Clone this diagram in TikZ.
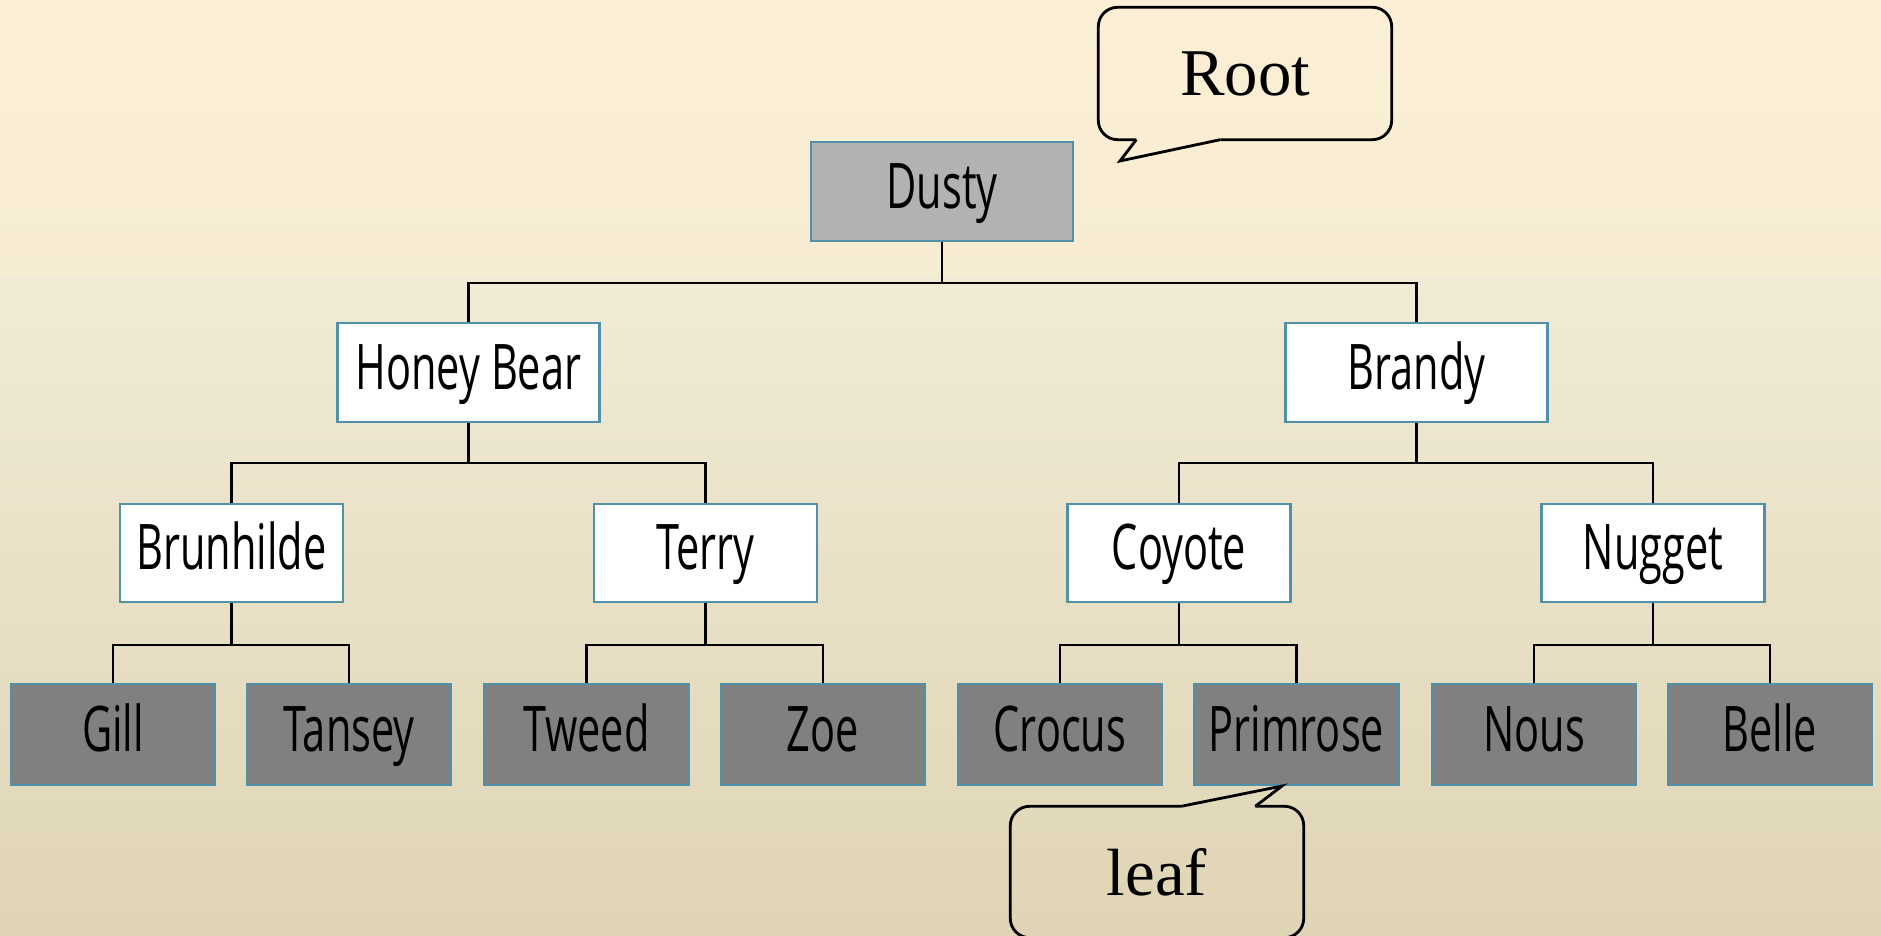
\documentclass[tikz,border=0pt]{standalone}
\usepackage{fontspec}
\setmainfont{Liberation Serif}
\newfontfamily\boxfont[FakeStretch=0.66]{Open Sans}
\usetikzlibrary{positioning, calc}

\definecolor{boxedge}{RGB}{80,145,170}
\definecolor{rootgray}{RGB}{178,178,178}
\definecolor{leafgray}{RGB}{128,128,128}
\definecolor{bgtop}{RGB}{252,239,214}
\definecolor{bgband}{RGB}{246,236,209}
\definecolor{bgmid}{RGB}{241,235,214}
\definecolor{bgbottom}{RGB}{223,212,180}

\begin{document}
\begin{tikzpicture}[
    person/.style={
        rectangle,
        draw=boxedge,
        fill=white,
        line width=0.6pt,
        inner sep=0pt,
        text height=0.46cm,
        text depth=0.124cm,
        minimum width=2.23cm,
        minimum height=0.98cm,
        font=\boxfont\fontsize{17.9}{20}\selectfont
    },
    topbox/.style={
        person,
        minimum width=2.62cm,
        minimum height=0.99cm
    },
    leafbox/.style={
        person,
        fill=leafgray,
        minimum width=2.04cm,
        minimum height=1.01cm
    },
    link/.style={
        draw=black,
        line width=0.6pt
    },
    tag/.style={
        inner sep=0pt,
        minimum width=2.92cm,
        minimum height=1.31cm,
        font=\fontsize{19}{22}\selectfont
    },
    tagline/.style={
        line width=0.8pt,
        color=black
    }
]

% Background
\useasboundingbox (0,0) rectangle (18.81,9.36);
\shade[top color=bgtop, bottom color=bgband] (0,6.59) rectangle (18.81,9.36);
\shade[top color=bgmid, middle color=bgmid, bottom color=bgbottom] (0,0) rectangle (18.81,6.59);

% Nodes
\node[topbox, fill=rootgray] (dusty)  at (9.42,  7.445) {Dusty};
\node[topbox] (honey)  at (4.685, 5.635) {Honey Bear};
\node[topbox] (brandy) at (14.165,5.635) {Brandy};

\node[person] (brunhilde) at (2.315, 3.83) {Brunhilde};
\node[person] (terry)     at (7.055, 3.83) {Terry};
\node[person] (coyote)    at (11.79, 3.83) {Coyote};
\node[person] (nugget)    at (16.53, 3.83) {Nugget};

\node[leafbox] (gill)     at (1.13,   2.015) {Gill};
\node[leafbox] (tansey)   at (3.49,   2.015) {Tansey};
\node[leafbox] (tweed)    at (5.865,  2.015) {Tweed};
\node[leafbox] (zoe)      at (8.23,   2.015) {Zoe};
\node[leafbox] (crocus)   at (10.60,  2.015) {Crocus};
\node[leafbox] (primrose) at (12.965, 2.015) {Primrose};
\node[leafbox] (nous)     at (15.34,  2.015) {Nous};
\node[leafbox] (belle)    at (17.70,  2.015) {Belle};

% Dusty -> second row
\draw[link] (dusty.south) -- ++(0,-0.41) -| (honey.north);
\draw[link] (dusty.south) -- ++(0,-0.41) -| (brandy.north);

% second row -> third row
\draw[link] (honey.south)  -- ++(0,-0.40) -| (brunhilde.north);
\draw[link] (honey.south)  -- ++(0,-0.40) -| (terry.north);
\draw[link] (brandy.south) -- ++(0,-0.40) -| (coyote.north);
\draw[link] (brandy.south) -- ++(0,-0.40) -| (nugget.north);

% third row -> leaves
\draw[link] (brunhilde.south) -- ++(0,-0.42) -| (gill.north);
\draw[link] (brunhilde.south) -- ++(0,-0.42) -| (tansey.north);
\draw[link] (terry.south)     -- ++(0,-0.42) -| (tweed.north);
\draw[link] (terry.south)     -- ++(0,-0.42) -| (zoe.north);
\draw[link] (coyote.south)    -- ++(0,-0.42) -| (crocus.north);
\draw[link] (coyote.south)    -- ++(0,-0.42) -| (primrose.north);
\draw[link] (nugget.south)    -- ++(0,-0.42) -| (nous.north);
\draw[link] (nugget.south)    -- ++(0,-0.42) -| (belle.north);

% Speech bubble for the root
\node[tag] (root) at (12.45, 8.625) {Root};
\coordinate (roottip) at (11.20, 7.75);
\draw[tagline, rounded corners=5.5pt] ($(root.south west)+(1.22,0)$) -- (root.south east)
    -- (root.north east) -- (root.north west) -- (root.south west)
    -- ($(root.south west)+(0.38,0)$);
\draw[tagline] ($(root.south west)+(0.38,0)$) -- (roottip)
    -- ($(root.south west)+(1.22,0)$);

% Speech bubble for a leaf
\node[tag, minimum height=1.30cm] (leaf) at (11.57, 0.64) {leaf};
\coordinate (leaftip) at ([xshift=-0.145cm] primrose.south);
\draw[tagline, rounded corners=5.5pt] ($(leaf.north west)+(2.45,0)$) -- (leaf.north east)
    -- (leaf.south east) -- (leaf.south west) -- (leaf.north west)
    -- ($(leaf.north west)+(1.71,0)$);
\draw[tagline] ($(leaf.north west)+(1.71,0)$) -- (leaftip)
    -- ($(leaf.north west)+(2.45,0)$);

\end{tikzpicture}
\end{document}
